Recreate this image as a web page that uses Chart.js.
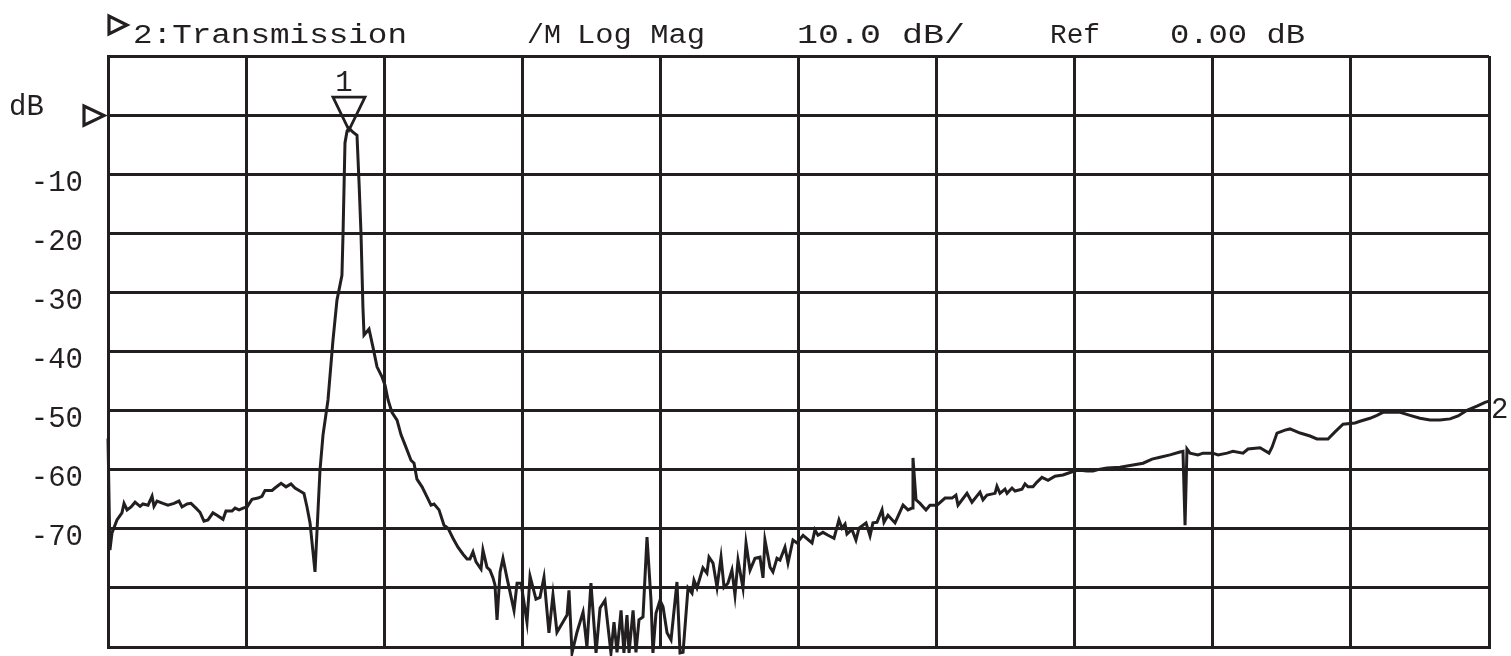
<!DOCTYPE html>
<html>
<head>
<meta charset="utf-8">
<script src="https://cdn.jsdelivr.net/npm/chart.js@4/dist/chart.umd.min.js"></script>
<style>
  html, body { margin: 0; padding: 0; background: #ffffff; }
  #wrap { width: 1511px; height: 656px; position: relative; }
</style>
</head>
<body>
<div id="wrap"><canvas id="c" width="1511" height="656"></canvas></div>
<script>
// ---- Data (x in graticule divisions across the sweep, y in dB) ----
const freqDiv = [
  0.000,0.014,0.029,0.065,0.101,0.116,0.138,0.167,0.196,0.232,0.253,0.290,0.319,0.333,0.355,0.398,0.434,0.478,0.514,0.536,
  0.572,0.601,0.637,0.666,0.695,0.724,0.760,0.789,0.833,0.854,0.898,0.920,0.949,0.978,1.007,1.043,1.086,1.115,1.137,1.188,
  1.209,1.253,1.289,1.325,1.354,1.390,1.419,1.441,1.463,1.499,1.535,1.557,1.593,1.629,1.658,1.694,1.702,1.716,1.731,1.745,
  1.774,1.803,1.818,1.832,1.846,1.854,1.890,1.919,1.948,1.984,2.006,2.028,2.056,2.093,2.122,2.151,2.194,2.216,2.237,2.274,
  2.310,2.339,2.361,2.397,2.433,2.462,2.498,2.534,2.571,2.600,2.621,2.643,2.665,2.701,2.715,2.744,2.766,2.788,2.802,2.817,
  2.839,2.860,2.889,2.940,2.962,2.991,3.034,3.056,3.099,3.128,3.157,3.193,3.222,3.251,3.324,3.338,3.360,3.396,3.440,3.468,
  3.497,3.534,3.563,3.599,3.642,3.664,3.686,3.715,3.736,3.758,3.773,3.802,3.823,3.845,3.874,3.903,3.932,3.946,3.968,3.997,
  4.019,4.048,4.077,4.120,4.142,4.164,4.200,4.229,4.243,4.265,4.308,4.337,4.352,4.381,4.410,4.439,4.461,4.489,4.518,4.540,
  4.562,4.598,4.620,4.649,4.685,4.721,4.743,4.757,4.794,4.815,4.844,4.866,4.902,4.924,4.960,4.989,5.033,5.098,5.119,5.141,
  5.177,5.214,5.257,5.293,5.315,5.337,5.351,5.387,5.416,5.438,5.489,5.518,5.539,5.568,5.605,5.619,5.648,5.699,5.757,5.793,
  5.822,5.829,5.851,5.880,5.923,5.952,6.003,6.061,6.112,6.140,6.155,6.220,6.256,6.314,6.336,6.365,6.423,6.437,6.459,6.495,
  6.510,6.546,6.568,6.618,6.640,6.662,6.698,6.727,6.763,6.807,6.857,6.915,6.951,7.002,7.038,7.089,7.133,7.183,7.234,7.328,
  7.422,7.495,7.560,7.618,7.690,7.762,7.784,7.799,7.813,7.835,7.893,7.929,8.001,8.038,8.103,8.146,8.219,8.255,8.342,8.407,
  8.429,8.465,8.523,8.559,8.632,8.704,8.754,8.834,8.885,8.943,9.030,9.066,9.138,9.189,9.232,9.356,9.428,9.500,9.573,9.645,
  9.718,9.776,9.844,9.917,9.971,10.000
];
const magDb = [
  -54.7,-73.6,-70.7,-68.5,-67.3,-65.7,-66.8,-66.3,-65.5,-66.2,-65.8,-66.0,-64.5,-66.2,-65.3,-65.7,-66.0,-65.7,-65.3,-66.3,
  -65.8,-65.7,-66.5,-67.2,-68.7,-68.5,-67.3,-67.7,-68.4,-67.0,-67.0,-66.5,-66.8,-66.5,-66.3,-65.0,-64.8,-64.5,-63.5,-63.5,
  -63.1,-62.3,-62.9,-62.4,-63.1,-63.6,-64.0,-66.3,-69.0,-77.3,-60.1,-54.1,-48.2,-38.1,-31.3,-27.1,-20.0,-4.7,-2.7,-2.2,
  -2.9,-3.4,-11.5,-20.0,-32.5,-37.2,-36.2,-39.3,-42.6,-44.3,-45.7,-48.2,-50.3,-51.6,-54.1,-55.8,-58.4,-58.9,-61.6,-62.9,
  -64.6,-66.0,-65.8,-66.8,-69.4,-69.9,-71.6,-73.1,-74.3,-75.1,-75.1,-73.9,-75.6,-76.8,-73.6,-76.5,-77.0,-78.3,-79.5,-85.4,
  -77.3,-75.0,-78.3,-83.8,-79.2,-79.2,-85.8,-78.0,-81.9,-81.6,-78.2,-87.6,-81.2,-87.5,-84.6,-80.4,-91.0,-87.5,-84.1,-90.0,
  -79.2,-91.0,-83.4,-82.1,-91.0,-85.8,-90.9,-83.8,-91.0,-84.6,-91.0,-83.8,-90.9,-85.4,-84.9,-71.4,-82.1,-91.0,-84.3,-82.1,
  -83.2,-87.6,-88.8,-79.0,-91.0,-90.9,-80.0,-80.9,-78.7,-80.0,-76.6,-77.5,-74.8,-75.8,-79.9,-74.8,-79.9,-79.2,-77.0,-81.2,
  -75.3,-80.0,-72.4,-77.0,-75.0,-74.8,-78.3,-71.9,-76.5,-77.3,-75.0,-75.3,-73.1,-75.8,-71.9,-72.4,-71.1,-72.4,-70.2,-71.1,
  -70.6,-71.1,-71.6,-68.5,-69.9,-69.2,-70.9,-70.1,-71.9,-69.9,-69.0,-71.2,-69.0,-68.9,-66.8,-68.9,-67.7,-69.0,-66.0,-66.8,
  -66.5,-58.0,-65.1,-65.7,-66.8,-66.0,-66.0,-64.8,-64.8,-64.3,-66.0,-64.0,-65.5,-63.8,-65.1,-64.3,-64.0,-62.8,-64.0,-63.3,
  -64.0,-63.1,-63.6,-63.3,-62.4,-62.9,-62.9,-62.1,-61.3,-61.8,-61.1,-60.9,-60.6,-60.2,-60.1,-60.2,-60.2,-59.9,-59.7,-59.6,
  -59.2,-58.9,-58.2,-57.9,-57.5,-57.0,-56.9,-69.4,-56.5,-57.2,-57.5,-57.2,-57.2,-57.5,-57.2,-56.9,-57.2,-56.5,-56.3,-57.2,
  -56.2,-53.8,-53.3,-53.1,-53.8,-54.3,-54.8,-54.8,-53.6,-52.3,-52.1,-51.8,-51.3,-50.8,-50.3,-50.3,-50.8,-51.3,-51.6,-51.6,
  -51.4,-50.9,-49.9,-49.2,-48.6,-48.4
];
const yTickLabels = ['-10','-20','-30','-40','-50','-60','-70'];
const headerTexts = ['2:Transmission', '/M', 'Log Mag', '10.0 dB/', 'Ref', '0.00 dB'];
const refLevelDb = 0;
const marker1 = { label: '1', x: 1.745, y: -2.2 };
const marker2 = { label: '2', x: 10.0, y: -48.4 };

const INK = '#231f20';
const MONO = '"Liberation Mono", "Courier New", "DejaVu Sans Mono", monospace';

const points = freqDiv.map((f, i) => ({ x: f, y: magDb[i] }));

// header layout: [startX, targetWidth]
const headerLayout = [[133, 274], [527, 34], [577, 128], [797, 168], [1050, 50], [1170, 135]];

const overlay = {
  id: 'overlay',
  afterDraw(chart) {
    const ctx = chart.ctx;
    const xs = chart.scales.x, ys = chart.scales.y;
    ctx.save();
    ctx.fillStyle = INK;
    ctx.strokeStyle = INK;
    ctx.lineJoin = 'miter';
    // header
    ctx.font = '27px ' + MONO;
    ctx.textBaseline = 'alphabetic';
    ctx.textAlign = 'left';
    headerTexts.forEach((t, i) => {
      const [x0, w] = headerLayout[i];
      const m = ctx.measureText(t).width;
      ctx.save();
      ctx.translate(x0, 43);
      ctx.scale(w / m, 1);
      ctx.fillText(t, 0, 0);
      ctx.restore();
    });
    // header channel triangle
    ctx.lineWidth = 3.2;
    ctx.beginPath();
    ctx.moveTo(109, 16); ctx.lineTo(109, 34); ctx.lineTo(127, 25); ctx.closePath();
    ctx.stroke();
    // reference-level triangle and "dB"
    const yRef = ys.getPixelForValue(refLevelDb);
    ctx.beginPath();
    ctx.moveTo(84, yRef - 9); ctx.lineTo(84, yRef + 10); ctx.lineTo(104, yRef + 0.5); ctx.closePath();
    ctx.stroke();
    ctx.font = '29px ' + MONO;
    ctx.textAlign = 'left';
    ctx.fillText('dB', 9, yRef);
    // marker 1
    const mx = xs.getPixelForValue(marker1.x), my = ys.getPixelForValue(marker1.y);
    ctx.lineWidth = 2.8;
    ctx.beginPath();
    ctx.moveTo(mx - 16, my - 31); ctx.lineTo(mx + 16, my - 31); ctx.lineTo(mx, my + 2); ctx.closePath();
    ctx.stroke();
    ctx.font = '29px ' + MONO;
    ctx.textAlign = 'center';
    ctx.textBaseline = 'alphabetic';
    ctx.fillText(marker1.label, mx - 5, my - 37);
    // marker 2
    const m2x = xs.getPixelForValue(marker2.x), m2y = ys.getPixelForValue(marker2.y);
    ctx.textAlign = 'left';
    ctx.textBaseline = 'middle';
    ctx.fillText(marker2.label, m2x + 2, m2y + 9);
    ctx.restore();
  }
};

new Chart(document.getElementById('c'), {
  type: 'scatter',
  data: {
    datasets: [{
      data: points,
      showLine: true,
      borderColor: INK,
      borderWidth: 3,
      pointRadius: 0,
      tension: 0,
      clip: 12
    }]
  },
  options: {
    responsive: false,
    animation: false,
    devicePixelRatio: 1,
    layout: { padding: { left: 0, right: 22, top: 56, bottom: 9 } },
    plugins: { legend: { display: false }, tooltip: { enabled: false } },
    scales: {
      x: {
        type: 'linear', min: 0, max: 10,
        ticks: { display: false, stepSize: 1 },
        grid: { color: INK, lineWidth: 3, drawTicks: false },
        border: { display: true, color: INK, width: 3 },
        afterFit(s) { s.height = 0; s.paddingLeft = 0; s.paddingRight = 0; }
      },
      y: {
        type: 'linear', min: -90, max: 10,
        ticks: {
          stepSize: 10,
          color: INK,
          font: { family: MONO, size: 29 },
          padding: 25,
          labelOffset: 9,
          callback(v) { const s = String(v); return yTickLabels.includes(s) ? s : ''; }
        },
        grid: { color: INK, lineWidth: 3, drawTicks: false },
        border: { display: true, color: INK, width: 3 },
        afterFit(s) { s.width = 108; s.paddingTop = 0; s.paddingBottom = 0; }
      }
    }
  },
  plugins: [overlay]
});
</script>
</body>
</html>
